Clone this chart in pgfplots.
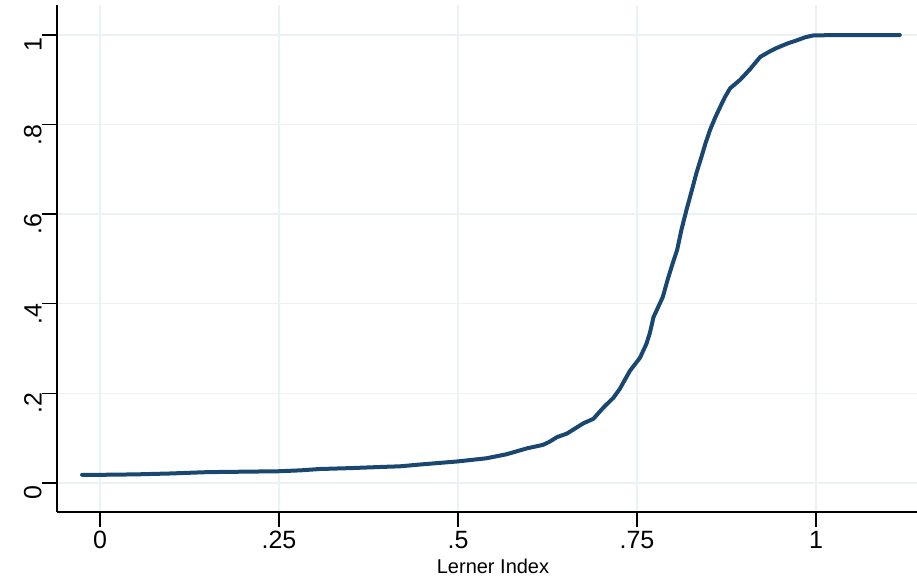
\documentclass[border=0pt]{standalone}
\usepackage{fontspec}
\setmainfont{Liberation Sans}
\usepackage{pgfplots}
\pgfplotsset{compat=1.18}
\definecolor{statanavy}{RGB}{26,71,111}
\definecolor{gridc}{RGB}{234,242,243}
\begin{document}
\begin{tikzpicture}
\begin{axis}[
  scale only axis,
  width=430pt, height=253.5pt,
  xmin=-0.06, xmax=1.141,
  ymin=-0.065, ymax=1.067,
  axis lines*=left,
  axis line style={black, line width=0.75pt, -},
  xtick={0,0.25,0.5,0.75,1},
  xticklabels={0,.25,.5,.75,1},
  ytick={0,0.2,0.4,0.6,0.8,1},
  yticklabels={0,.2,.4,.6,.8,1},
  tick align=outside,
  major tick length=7.5pt,
  tick style={black, line width=0.75pt},
  /pgf/number format/assume math mode=true,
  tick label style={font=\fontsize{12.5}{14}\selectfont},
  xticklabel style={inner sep=0pt, yshift=-2pt},
  yticklabel style={rotate=90, anchor=south, inner sep=0pt, xshift=-5pt},
  grid=major,
  major grid style={gridc, line width=0.75pt},
  xlabel={Lerner Index},
  xlabel style={font=\fontsize{10}{12}\selectfont, at={(axis description cs:0.5,0)}, anchor=north, inner sep=0pt, yshift=-23.5pt, xshift=3pt},
  clip=false,
]
\addplot[statanavy, line width=2pt, line join=round, line cap=round] coordinates {
(-0.025,0.018) (0.0,0.018) (0.05,0.019) (0.098,0.021) (0.15,0.024) (0.2,0.025)
(0.25,0.026) (0.28,0.028) (0.307,0.031) (0.35,0.033) (0.4,0.036) (0.419,0.037)
(0.447,0.041) (0.5,0.048) (0.54,0.055) (0.568,0.064) (0.596,0.077) (0.619,0.085)
(0.628,0.092) (0.638,0.102) (0.652,0.110) (0.675,0.133) (0.689,0.143) (0.703,0.168)
(0.717,0.19) (0.726,0.21) (0.740,0.250) (0.754,0.279) (0.763,0.31) (0.768,0.335)
(0.773,0.370) (0.786,0.415) (0.793,0.455) (0.800,0.491) (0.806,0.520) (0.812,0.565)
(0.819,0.609) (0.826,0.65) (0.833,0.692) (0.840,0.728) (0.846,0.76) (0.852,0.788)
(0.859,0.815) (0.866,0.839) (0.873,0.862) (0.880,0.881) (0.894,0.900) (0.908,0.924)
(0.922,0.951) (0.935,0.963) (0.945,0.971) (0.960,0.981) (0.973,0.988) (0.985,0.995)
(0.996,0.999) (1.03,1.0) (1.117,1.0)
};
\end{axis}
\pgfresetboundingbox
\path ([shift={(-28.5pt,-34pt)}]current axis.south west) rectangle ([shift={(0pt,2.5pt)}]current axis.north east);
\end{tikzpicture}
\end{document}
